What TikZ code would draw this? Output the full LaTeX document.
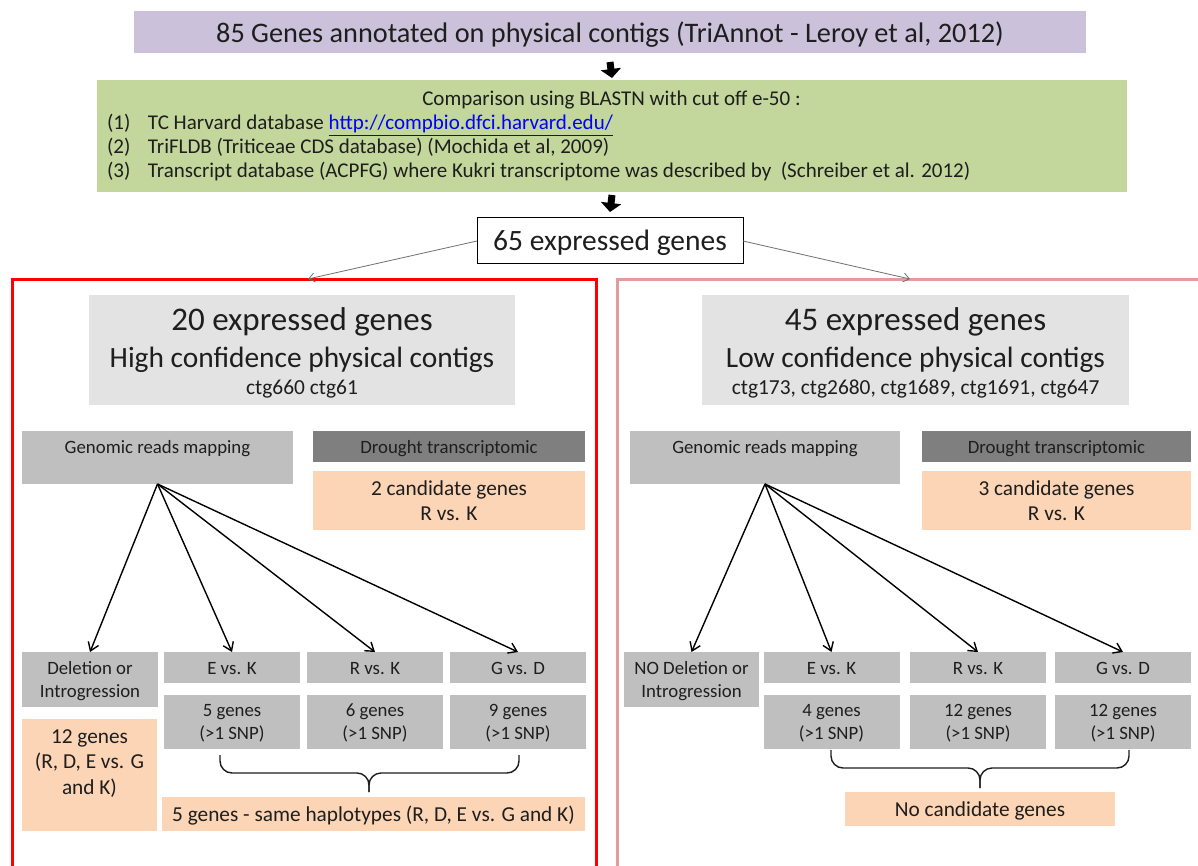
\documentclass[tikz,border=0pt]{standalone}
\usepackage{fontspec}
\setmainfont{Carlito}
\usetikzlibrary{arrows.meta}
\definecolor{purp}{HTML}{CCC1DA}
\definecolor{grn}{HTML}{C3D69B}
\definecolor{lgray}{HTML}{E3E3E3}
\definecolor{mgray}{HTML}{BFBFBF}
\definecolor{dgray}{HTML}{7F7F7F}
\definecolor{peach}{HTML}{FBD5B5}
\definecolor{pinkf}{HTML}{E49B9D}
\definecolor{redf}{HTML}{FF0000}
\definecolor{txt}{HTML}{1E1E1E}
\definecolor{linkblue}{HTML}{0000FF}
\definecolor{thinarr}{HTML}{707070}
\begin{document}
\begin{tikzpicture}[x=1pt,y=-1pt,
  cell/.style={rectangle, inner sep=0pt, outer sep=0pt, align=center, text=txt},
  txtnode/.style={inner sep=0pt, outer sep=0pt, text=txt},
  fsS/.style={font=\fontsize{18.8}{23}\selectfont},
  fsM/.style={font=\fontsize{21.3}{25.5}\selectfont},
  fsG/.style={font=\fontsize{21}{24}\selectfont},
  oneS/.style={text height=15pt, text depth=2pt},
  oneM/.style={text height=16.5pt, text depth=2.5pt},
  multi/.style={text depth=0pt},
  mgbox/.style={cell, fsS, fill=mgray},
  pbox/.style={cell, fsM, fill=peach},
  hdrbox/.style={cell, fill=lgray, minimum width=426pt, minimum height=110pt},
  hdrA/.style={txtnode, anchor=base, font=\fontsize{33}{40}\selectfont},
  hdrB/.style={txtnode, anchor=base, font=\fontsize{29.4}{35}\selectfont},
  hdrC/.style={txtnode, anchor=base, font=\fontsize{21.4}{26}\selectfont},
  blockarr/.style={draw=black, line width=7pt, -{Triangle[length=9pt,width=20pt]}},
  thinline/.style={draw=thinarr, line width=0.8pt, -{Straight Barb[length=6pt,width=9pt]}},
  maparr/.style={draw=black, line width=1.4pt, -{Straight Barb[length=8pt,width=11pt]}},
  bracepath/.style={draw=txt, line width=1.4pt, rounded corners=12pt},
  frameL/.style={draw=redf, line width=3pt},
  frameR/.style={draw=pinkf, line width=3pt}
]
\useasboundingbox (0,0) rectangle (1198,866);
\clip (0,0) rectangle (1198,866);
\fill[white] (0,0) rectangle (1198,866);

% top
\node[cell, fill=purp, minimum width=952pt, minimum height=42pt,
      font=\fontsize{28.3}{34}\selectfont, text height=24pt, text depth=2.6pt] (purp) at (610,32)
      {85 Genes annotated on physical contigs (TriAnnot - Leroy et al, 2012)};
\node[cell, fill=grn, minimum width=1030pt, minimum height=112pt] (green) at (612,136) {};
\node[txtnode, fsG, anchor=base] (cmp) at (611.5,106) {Comparison using BLASTN with cut off e-50 :};
\node[txtnode, fsG, anchor=base west] (it1) at (107,130)
  {\makebox[41pt][l]{(1)}TC Harvard database \textcolor{linkblue}{\underline{http://compbio.dfci.harvard.edu/}}};
\node[txtnode, fsG, anchor=base west] (it2) at (107,154)
  {\makebox[41pt][l]{(2)}TriFLDB (Triticeae CDS database) (Mochida et al, 2009)};
\node[txtnode, fsG, anchor=base west] (it3) at (107,178)
  {\makebox[41pt][l]{(3)}Transcript database (ACPFG) where Kukri transcriptome was described by \ (Schreiber et al. 2012)};
\node[cell, draw=black, line width=1pt, fill=white, minimum width=266pt, minimum height=46pt,
      font=\fontsize{29.5}{35}\selectfont, text height=22pt, text depth=2.6pt] (exp) at (610,241) {65 expressed genes};

\draw[blockarr] ([yshift=-9pt]purp.south) -- ([yshift=2pt]green.north);
\draw[blockarr] ([yshift=-3pt]green.south) -- ([yshift=6pt]exp.north);

% frames
\draw[frameL] (12,880) -- (12,280) -- (596,280) -- (596,880);
\draw[frameR] (617,880) -- (617,280) -- (1215,280);
\coordinate (lt) at (308,279);
\coordinate (rt) at (910,279);
\draw[thinline] (exp.west) -- (lt);
\draw[thinline] (exp.east) -- (rt);

% ===== left panel =====
\node[hdrbox] (hdrL) at (302,350) {};
\node[hdrA] (hLa) at (302,330) {20 expressed genes};
\node[hdrB] (hLb) at (302,367) {High confidence physical contigs};
\node[hdrC] (hLc) at (302,394) {ctg660 ctg61};

\node[cell, fill=mgray, minimum width=271pt, minimum height=53pt] (gmL) at (157.5,457.5) {};
\node[txtnode, fsS, anchor=base] (gmLt) at (157.5,453) {Genomic reads mapping};
\node[cell, fsS, oneS, fill=dgray, minimum width=272pt, minimum height=31pt] (drL) at (449,446.5) {Drought transcriptomic};
\node[pbox, multi, minimum width=272pt, minimum height=59pt] (cdL) at (449,500.5) {2 candidate genes\\R vs. K};

\node[mgbox, multi, minimum width=136pt, minimum height=55pt] (delL) at (90,679.5) {Deletion or\\Introgression};
\node[mgbox, oneS, minimum width=136pt, minimum height=31pt] (ekL) at (232,667.5) {E vs. K};
\node[mgbox, oneS, minimum width=136pt, minimum height=31pt] (rkL) at (375,667.5) {R vs. K};
\node[mgbox, oneS, minimum width=136pt, minimum height=31pt] (gdL) at (518,667.5) {G vs. D};
\node[mgbox, multi, minimum width=136pt, minimum height=54pt] (ekLn) at (232,722) {5 genes\\(>1 SNP)};
\node[mgbox, multi, minimum width=136pt, minimum height=54pt] (rkLn) at (375,722) {6 genes\\(>1 SNP)};
\node[mgbox, multi, minimum width=136pt, minimum height=54pt] (gdLn) at (518,722) {9 genes\\(>1 SNP)};
\node[cell, fill=peach, minimum width=135pt, minimum height=112pt] (twL) at (89.5,775) {};
\node[txtnode, fsM, multi, align=center] (twLt) at (89.5,762) {12 genes\\(R, D, E vs. G\\and K)};
\node[pbox, oneM, minimum width=423pt, minimum height=34pt] (hapL) at (373.5,814) {5 genes - same haplotypes (R, D, E vs. G and K)};

\draw[maparr] (gmL.south) -- (delL.north);
\draw[maparr] (gmL.south) -- (ekL.north);
\draw[maparr] (gmL.south) -- (rkL.north);
\draw[maparr] (gmL.south) -- (gdL.north);

\draw[bracepath] (220,755) -- (220,773) -- (369,773) -- (369,792);
\draw[bracepath] (519,755) -- (519,773) -- (369,773) -- (369,792);

% ===== right panel =====
\node[hdrbox, minimum width=427pt] (hdrR) at (915.5,350) {};
\node[hdrA] (hRa) at (915.5,330) {45 expressed genes};
\node[hdrB] (hRb) at (915.5,367) {Low confidence physical contigs};
\node[hdrC] (hRc) at (915.5,394) {ctg173, ctg2680, ctg1689, ctg1691, ctg647};

\node[cell, fill=mgray, minimum width=270pt, minimum height=53pt] (gmR) at (765,457.5) {};
\node[txtnode, fsS, anchor=base] (gmRt) at (765,453) {Genomic reads mapping};
\node[cell, fsS, oneS, fill=dgray, minimum width=269pt, minimum height=31pt] (drR) at (1056.5,446.5) {Drought transcriptomic};
\node[pbox, multi, minimum width=269pt, minimum height=59pt] (cdR) at (1056.5,500.5) {3 candidate genes\\R vs. K};

\node[mgbox, multi, minimum width=135pt, minimum height=55pt] (delR) at (691.5,679.5) {NO Deletion or\\Introgression};
\node[mgbox, oneS, minimum width=136pt, minimum height=31pt] (ekR) at (831.5,667.5) {E vs. K};
\node[mgbox, oneS, minimum width=136pt, minimum height=31pt] (rkR) at (978,667.5) {R vs. K};
\node[mgbox, oneS, minimum width=136pt, minimum height=31pt] (gdR) at (1123,667.5) {G vs. D};
\node[mgbox, multi, minimum width=136pt, minimum height=54pt] (ekRn) at (831.5,722) {4 genes\\(>1 SNP)};
\node[mgbox, multi, minimum width=136pt, minimum height=54pt] (rkRn) at (978,722) {12 genes\\(>1 SNP)};
\node[mgbox, multi, minimum width=136pt, minimum height=54pt] (gdRn) at (1123,722) {12 genes\\(>1 SNP)};
\node[pbox, oneM, minimum width=270pt, minimum height=34pt] (noR) at (980,809) {No candidate genes};

\draw[maparr] (gmR.south) -- (delR.north);
\draw[maparr] (gmR.south) -- (ekR.north);
\draw[maparr] (gmR.south) -- (rkR.north);
\draw[maparr] (gmR.south) -- (gdR.north);

\draw[bracepath] (831,750) -- (831,768) -- (980,768) -- (980,788);
\draw[bracepath] (1129,750) -- (1129,768) -- (980,768) -- (980,788);
\end{tikzpicture}
\end{document}
